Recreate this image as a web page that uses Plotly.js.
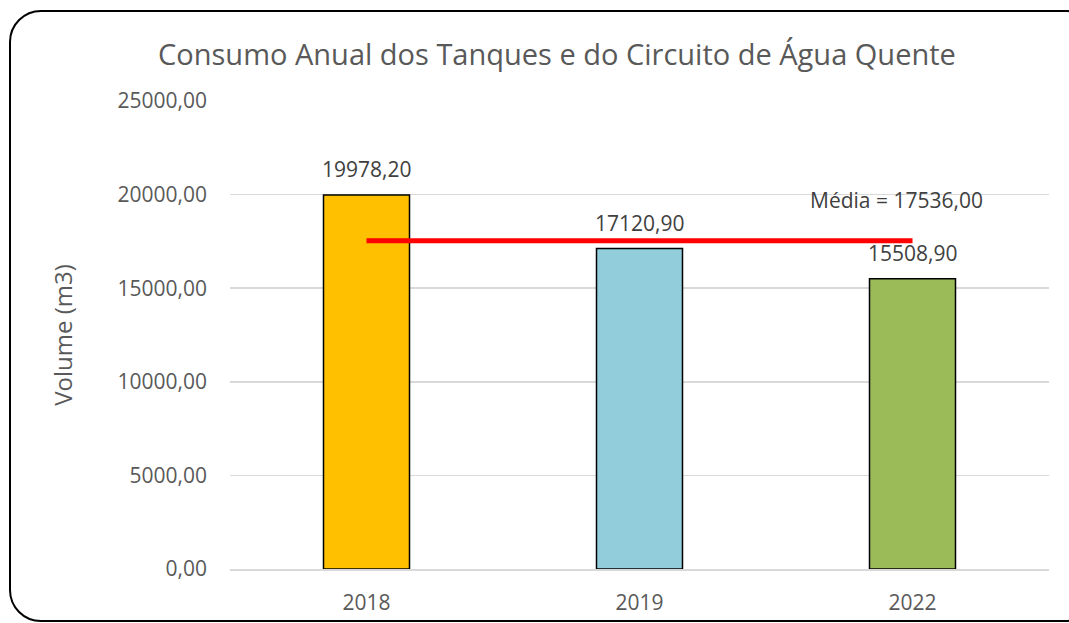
<!DOCTYPE html>
<html>
<head>
<meta charset="utf-8">
<script src="https://cdn.plot.ly/plotly-3.0.1.min.js"></script>
<style>
html,body{margin:0;padding:0;width:1069px;height:623px;overflow:hidden;background:#fff;}
#frame{position:absolute;left:9px;top:10px;width:1090px;height:612px;border:2px solid #000;border-radius:32px;box-sizing:border-box;pointer-events:none;z-index:5;}
#chart{position:absolute;left:0;top:0;width:1069px;height:623px;}
</style>
</head>
<body>
<div id="chart"></div>
<div id="frame"></div>
<script>
const categories = ['2018', '2019', '2022'];
const values = [19978.20, 17120.90, 15508.90];
const barColors = ['#FFC000', '#92CDDC', '#9BBB59'];
const mean = 17536.00;
const meanLabel = 'Média = 17536,00';
const yTicks = [0, 5000, 10000, 15000, 20000, 25000];

const fmt = v => v.toFixed(2).replace('.', ',');
const FONT = 'Open Sans, sans-serif';

const traces = [
  {
    type: 'bar',
    x: categories,
    y: values,
    marker: {color: barColors, line: {color: '#000', width: 1.5}},
    hoverinfo: 'none'
  },
  {
    type: 'scatter',
    mode: 'lines',
    x: [categories[0], categories[categories.length - 1]],
    y: [mean, mean],
    line: {color: '#FF0000', width: 5},
    hoverinfo: 'none'
  }
];

const annotations = categories.map((c, i) => ({
  x: i, y: values[i], xref: 'x', yref: 'y',
  text: fmt(values[i]), showarrow: false,
  yanchor: 'bottom', yshift: 10,
  font: {family: FONT, size: 21, color: '#404040'}
}));
annotations.push({
  x: categories.length - 1, y: mean, xref: 'x', yref: 'y',
  text: meanLabel, showarrow: false,
  yanchor: 'bottom', yshift: 25, xshift: -16,
  font: {family: FONT, size: 21, color: '#404040'}
});

const layout = {
  width: 1069, height: 623,
  margin: {l: 230, r: 20, t: 101, b: 54},
  paper_bgcolor: '#fff', plot_bgcolor: '#fff',
  showlegend: false,
  bargap: 0.685,
  title: {
    text: 'Consumo Anual dos Tanques e do Circuito de Água Quente',
    x: 0.521, xref: 'container', xanchor: 'center',
    y: 0.912, yref: 'container', yanchor: 'middle',
    font: {family: FONT, size: 29, color: '#595959'}
  },
  xaxis: {
    type: 'category',
    categoryorder: 'array', categoryarray: categories,
    range: [-0.5, categories.length - 0.5],
    showgrid: false, zeroline: false,
    showline: true, linecolor: '#d9d9d9', linewidth: 1.5,
    ticks: '', ticklabelstandoff: 14,
    tickfont: {family: FONT, size: 21, color: '#595959'}
  },
  yaxis: {
    range: [0, 25000],
    tickmode: 'array',
    tickvals: yTicks,
    ticktext: yTicks.map(fmt),
    showgrid: true, gridcolor: '#d9d9d9', gridwidth: 1.5,
    zeroline: false, showline: false, ticks: '',
    ticklabelstandoff: 22,
    tickfont: {family: FONT, size: 21, color: '#595959'},
    title: {text: 'Volume (m3)', standoff: 38, font: {family: FONT, size: 24, color: '#595959'}}
  },
  annotations: annotations
};

Plotly.newPlot('chart', traces, layout, {displayModeBar: false, staticPlot: true});
</script>
</body>
</html>
